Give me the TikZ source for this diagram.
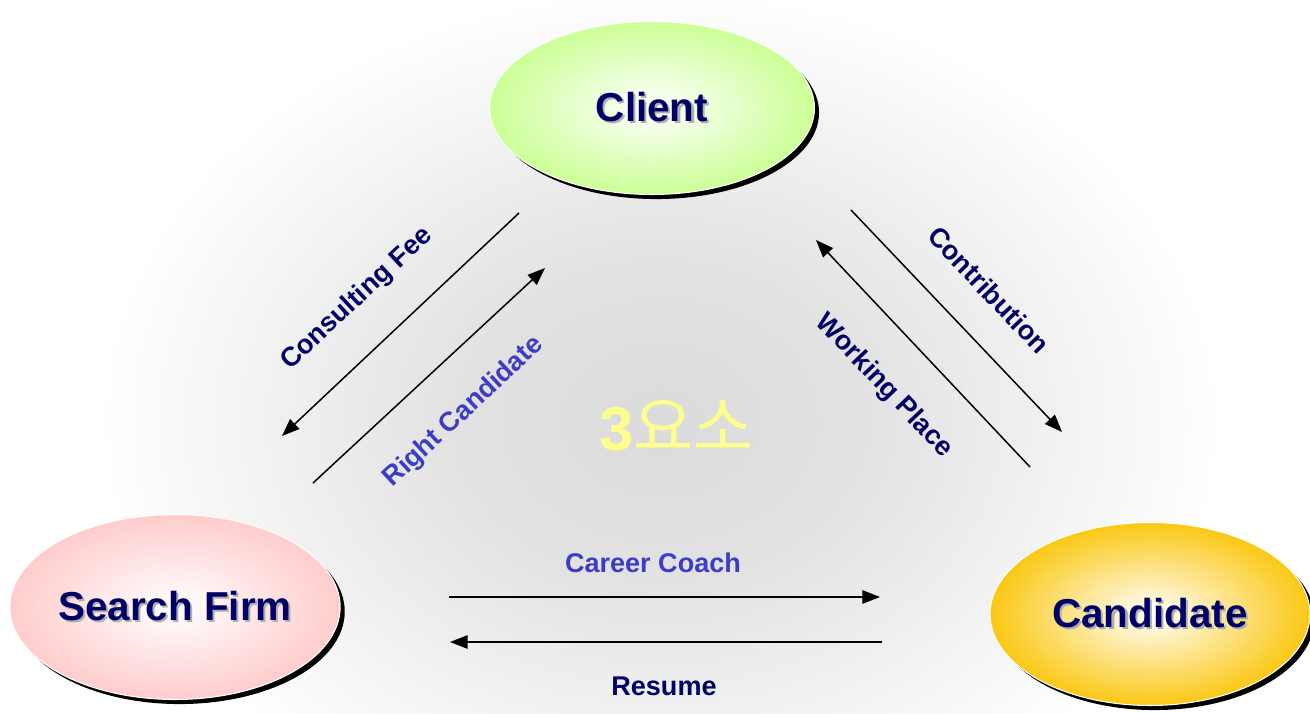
\documentclass[tikz,border=0pt]{standalone}
\usepackage{fontspec}
\setmainfont{Liberation Sans}
\newfontfamily\krfont{Noto Sans CJK KR}
\usetikzlibrary{positioning,calc,shapes.geometric,shadows,arrows.meta}

\definecolor{navy}{RGB}{0,0,102}
\definecolor{lightblue}{RGB}{60,60,200}
\definecolor{clientgreen}{RGB}{204,255,150}
\definecolor{firmpink}{RGB}{255,204,204}
\definecolor{candgold}{RGB}{250,200,20}
\definecolor{titleyellow}{RGB}{255,255,140}
\definecolor{textshade}{RGB}{175,175,175}
\definecolor{glowgray}{RGB}{219,219,219}
\definecolor{glowmid}{RGB}{226,226,226}

\pgfdeclareradialshading{glow}{\pgfpoint{0bp}{0bp}}{%
  color(0bp)=(glowgray); color(9bp)=(glowmid);
  color(25bp)=(white); color(50bp)=(white)}

\newcommand{\shtext}[1]{\makebox[0pt][l]{\hspace{1.2pt}\raisebox{-1.2pt}{\textcolor{textshade}{#1}}}#1}

\begin{document}
\begin{tikzpicture}[x=0.02cm, y=-0.02cm,
    party/.style = {ellipse, inner sep=0pt, draw=white, line width=0.6pt,
      inner color=white, text=navy,
      font=\fontsize{23}{27}\selectfont\bfseries,
      drop shadow={shadow xshift=2.6pt, shadow yshift=-2.6pt, fill=black, opacity=1}},
    flow/.style = {line width=0.85pt, -{Triangle[length=10pt, width=7.6pt]}},
    tag/.style = {font=\fontsize{15.4}{18}\selectfont\bfseries, text=navy, inner sep=0pt},
    tagb/.style = {tag, text=lightblue}]

  % canvas and glow
  \useasboundingbox (0,0) rectangle (1310,713);
  \begin{scope}
    \clip (0,0) rectangle (1310,713);
    \fill[white] (0,0) rectangle (1310,713);
    \shade[shading=glow] (660,420) ellipse [x radius=560, y radius=430];
  \end{scope}

  % the three parties
  \node[party, outer color=clientgreen, minimum width=6.5cm, minimum height=3.46cm]
    (client) at (652,108) {\shtext{Client}};
  \node[party, outer color=firmpink, minimum width=6.52cm, minimum height=3.7cm]
    (firm) at (175,607) {\shtext{Search Firm}};
  \node[party, outer color=candgold, minimum width=6.4cm, minimum height=3.66cm]
    (cand) at (1150,614) {\shtext{Candidate}};

  \node[font=\fontsize{35}{40}\selectfont, text=titleyellow] (title) at (676,426)
    {\textbf{3}{\krfont\fontsize{37}{40}\selectfont 요소}};

  % end points of the flows
  \coordinate (fee a) at (519,213);
  \coordinate (fee b) at (282,436);
  \coordinate (right a) at (313,483);
  \coordinate (right b) at (545,268);
  \coordinate (contr a) at (851,210);
  \coordinate (contr b) at (1062,432);
  \coordinate (work a) at (1030,467);
  \coordinate (work b) at (816,240);
  \coordinate (coach a) at (449,597);
  \coordinate (coach b) at (880,597);
  \coordinate (res a) at (882,642);
  \coordinate (res b) at (450,642);

  \draw[flow] (fee a) -- (fee b);
  \draw[flow] (right a) -- (right b);
  \draw[flow] (contr a) -- (contr b);
  \draw[flow] (work a) -- (work b);
  \draw[flow] (coach a) -- (coach b);
  \draw[flow] (res a) -- (res b);

  % labels
  \node[tag, rotate=43] (fee) at (357,299) {Consulting Fee};
  \node[tagb, rotate=43] (right) at (464,412) {Right Candidate};
  \node[tag, rotate=-46.5] (contr) at (989,290) {Contribution};
  \node[tag, rotate=-46.5] (work) at (884,386) {Working Place};
  \node[tagb] (coach) at (653,563) {Career Coach};
  \node[tag] (res) at (664,686) {Resume};
\end{tikzpicture}
\end{document}
